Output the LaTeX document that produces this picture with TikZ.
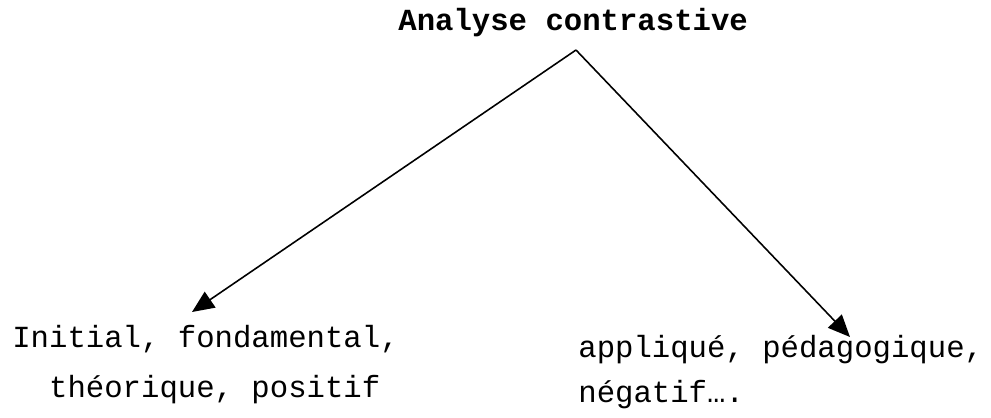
\documentclass[tikz,border=0pt]{standalone}
\usepackage{fontspec}
\setmonofont{Liberation Mono}
\usetikzlibrary{arrows.meta,positioning,calc}

\tikzset{
	label text/.style={anchor=base west,inner sep=0pt,align=left,font=\ttfamily\fontsize{17.45}{28.4}\selectfont},
	branch/.style={-{Triangle[length=4.4mm,width=3.8mm]},line width=0.9pt}
}

\begin{document}
\begin{tikzpicture}[x=0.02cm,y=-0.02cm]
	\useasboundingbox (0,0) rectangle (991,417);
	
	% title
	\node[label text,font=\ttfamily\bfseries\fontsize{17.45}{20}\selectfont] (title) at (398,30) {Analyse contrastive};
	
	% the two branches (base = last line)
	\node[label text] (initial) at (12,397) {Initial, fondamental,\\\phantom{xx}théorique, positif};
	\node[label text,font=\ttfamily\fontsize{17.45}{25.6}\selectfont] (applied) at (578,402) {appliqué, pédagogique,\\négatif….};
	
	% arrows
	\coordinate (apex) at (576,50);
	\coordinate (tipL) at (192,312);
	\coordinate (tipR) at (850,337);
	\draw[branch] (apex)--(tipL);
	\draw[branch] (apex)--(tipR);
\end{tikzpicture}
\end{document}
